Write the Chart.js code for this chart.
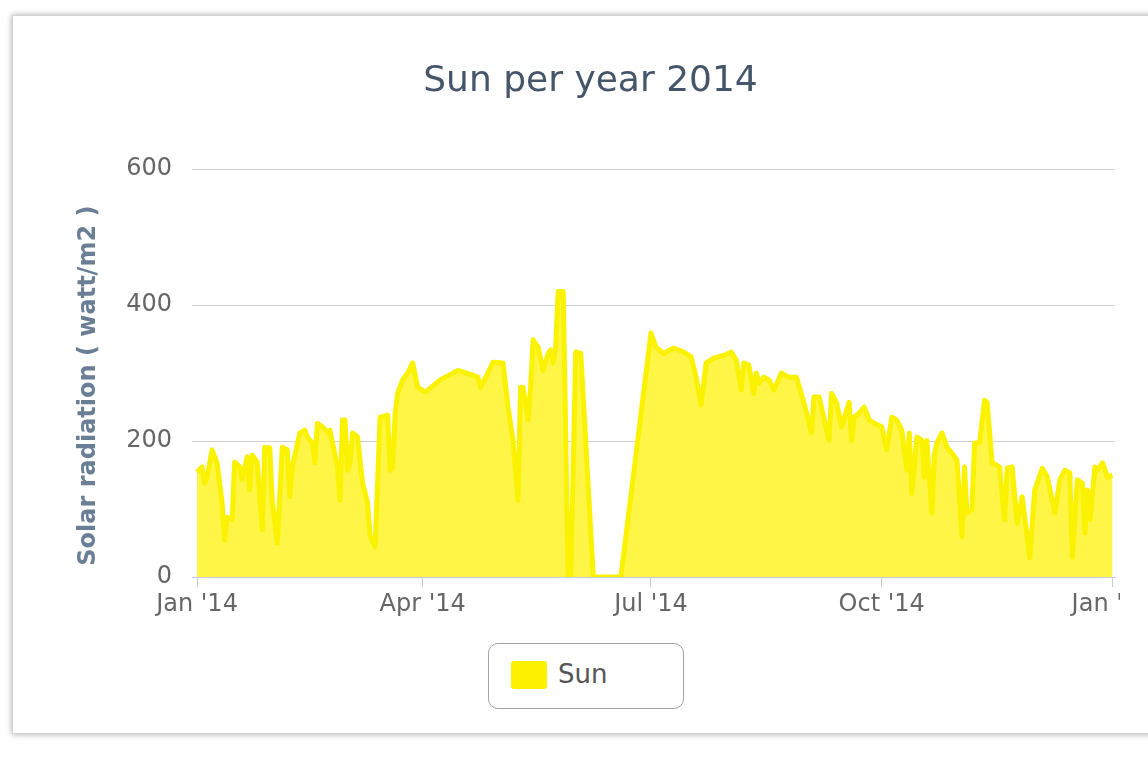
<!DOCTYPE html>
<html>
<head>
<meta charset="utf-8">
<title>Sun per year 2014</title>
<script src="https://cdn.jsdelivr.net/npm/chart.js@4.4.1/dist/chart.umd.min.js"></script>
<style>
    html, body { margin: 0; padding: 0; background: #fff; }
    body { width: 1148px; height: 760px; position: relative; overflow: hidden; font-family: "DejaVu Sans", sans-serif; }
    .card {
        position: absolute; left: 12px; top: 15px; width: 1160px; height: 717px;
        border: 1px solid #d4d4d4; box-shadow: 0 0 6px rgba(0,0,0,0.35); background: #fff;
    }
    .clip { position: absolute; left: 0; top: 0; width: 1120px; height: 760px; overflow: hidden; }
    #chart { position: absolute; left: 0; top: 0; }
    .legend {
        position: absolute; left: 488px; top: 643px; width: 196px; height: 66px;
        border: 1.5px solid #a2a2a2; border-radius: 10px; background: #fff; box-sizing: border-box;
    }
    .legend .swatch {
        position: absolute; left: 22px; top: 17px; width: 36px; height: 28px;
        background: #fff200; border-radius: 3px;
    }
    .legend .label {
        position: absolute; left: 69px; top: 13px; font-size: 26px; color: #555; line-height: 34px;
    }
</style>
</head>
<body>
<div class="card"></div>
<div class="clip"><canvas id="chart" width="1148" height="760"></canvas></div>
<div class="legend"><div class="swatch"></div><div class="label">Sun</div></div>

<script>
// Day of year (0 = Jan 1 2014) and daily solar radiation in watt/m2
const days = [
    0, 2, 3, 4, 6, 8, 10, 11, 12, 14, 15, 17, 18, 20, 21, 22, 24, 26, 27, 29,
    30, 32, 34, 36, 37, 38, 41, 43, 44, 46, 47, 48, 50, 52, 53, 56, 57, 58, 59, 60,
    61, 62, 64, 66, 68, 69, 71, 73, 76, 77, 78, 79, 80, 82, 84, 86, 88, 91, 97, 104,
    109, 112, 113, 116, 118, 122, 124, 126, 128, 129, 130, 132, 133, 134, 136, 138, 140, 141, 142, 143,
    144, 146, 148, 149, 151, 153, 158, 169, 181, 183, 186, 190, 194, 197, 199, 201, 203, 206, 210, 213,
    215, 217, 218, 220, 222, 223, 224, 226, 228, 230, 233, 236, 239, 242, 245, 246, 248, 252, 253, 255,
    257, 260, 261, 262, 264, 266, 268, 270, 273, 275, 277, 279, 281, 283, 284, 285, 287, 289, 290, 291,
    293, 294, 295, 297, 299, 301, 303, 305, 306, 307, 309, 310, 312, 314, 315, 317, 320, 322, 323, 325,
    327, 329, 332, 334, 337, 339, 342, 344, 346, 348, 349, 351, 353, 354, 355, 356, 358, 359, 361, 363,
    365
];
const sunValues = [
    154, 162, 138, 146, 187, 168, 109, 54, 88, 84, 169, 162, 143, 177, 128, 179, 169, 69, 191, 190,
    113, 50, 191, 187, 118, 162, 212, 216, 206, 197, 168, 226, 221, 213, 216, 162, 113, 231, 231, 157,
    168, 212, 206, 138, 109, 60, 45, 235, 238, 157, 162, 241, 270, 290, 300, 315, 279, 272, 290, 304,
    298, 294, 279, 300, 316, 315, 250, 201, 113, 279, 279, 231, 279, 349, 338, 304, 329, 334, 315, 338,
    420, 420, 0, 0, 331, 329, 0, 0, 359, 338, 329, 337, 331, 324, 294, 253, 315, 322, 326, 331,
    319, 275, 315, 312, 270, 300, 285, 294, 290, 275, 300, 294, 294, 256, 212, 265, 265, 201, 270, 256,
    221, 257, 201, 235, 241, 250, 231, 226, 221, 187, 235, 231, 216, 157, 212, 123, 206, 201, 147, 201,
    94, 180, 197, 212, 191, 182, 172, 59, 162, 94, 99, 197, 197, 260, 257, 168, 162, 84, 160, 162,
    79, 118, 28, 128, 160, 147, 94, 143, 157, 153, 29, 143, 138, 65, 128, 84, 162, 157, 168, 147,
    150
];
const tickDays = [0, 90, 181, 273, 365];
const tickLabels = ["Jan '14", "Apr '14", "Jul '14", "Oct '14", "Jan '15"];
const yTicks = [0, 200, 400, 600];

const points = days.map((d, i) => ({ x: d, y: sunValues[i] }));

const ctx = document.getElementById('chart').getContext('2d');
new Chart(ctx, {
    type: 'line',
    data: {
        datasets: [{
            label: 'Sun',
            data: points,
            borderColor: '#fbf200',
            backgroundColor: '#fff546',
            borderWidth: 5,
            borderJoinStyle: 'round',
            pointRadius: 0,
            tension: 0,
            fill: 'origin'
        }]
    },
    options: {
        responsive: false,
        animation: false,
        layout: { padding: { left: 66, right: 33, top: 0, bottom: 0 } },
        plugins: {
            legend: { display: false },
            tooltip: { enabled: false },
            title: {
                display: true,
                text: 'Sun per year 2014',
                color: '#46566a',
                font: { family: 'DejaVu Sans', size: 36, weight: 'normal' },
                padding: { top: 60, bottom: 66 }
            }
        },
        scales: {
            x: {
                type: 'linear',
                min: -2,
                max: 366,
                afterBuildTicks: (scale) => {
                    scale.ticks = tickDays.map(v => ({ value: v }));
                },
                afterFit: (scale) => {
                    scale.height = 760 - 577;
                    scale.paddingLeft = 0;
                    scale.paddingRight = 0;
                },
                ticks: {
                    autoSkip: false,
                    maxRotation: 0,
                    padding: 3,
                    color: '#666',
                    font: { family: 'DejaVu Sans', size: 24 },
                    callback: (v) => {
                        const i = tickDays.indexOf(v);
                        return i >= 0 ? tickLabels[i] : '';
                    }
                },
                grid: {
                    drawOnChartArea: false,
                    drawTicks: true,
                    tickLength: 10,
                    color: '#c4ccd8'
                },
                border: { display: true, color: '#c4ccd8', width: 1 }
            },
            y: {
                min: 0,
                max: 600,
                afterBuildTicks: (scale) => {
                    scale.ticks = yTicks.map(v => ({ value: v }));
                },
                afterFit: (scale) => {
                    scale.width = 192 - 66;
                    scale.paddingTop = 0;
                    scale.paddingBottom = 0;
                },
                ticks: {
                    padding: 20,
                    color: '#666',
                    font: { family: 'DejaVu Sans', size: 24 }
                },
                grid: { color: '#cfcfcf', drawTicks: false },
                border: { display: false },
                title: {
                    display: true,
                    text: 'Solar radiation ( watt/m2 )\u00a0\u00a0\u00a0',
                    color: '#6a7f95',
                    font: { family: 'DejaVu Sans', size: 24, weight: 'bold' },
                    padding: { top: 8, bottom: 0 }
                }
            }
        }
    }
});
</script>
</body>
</html>
